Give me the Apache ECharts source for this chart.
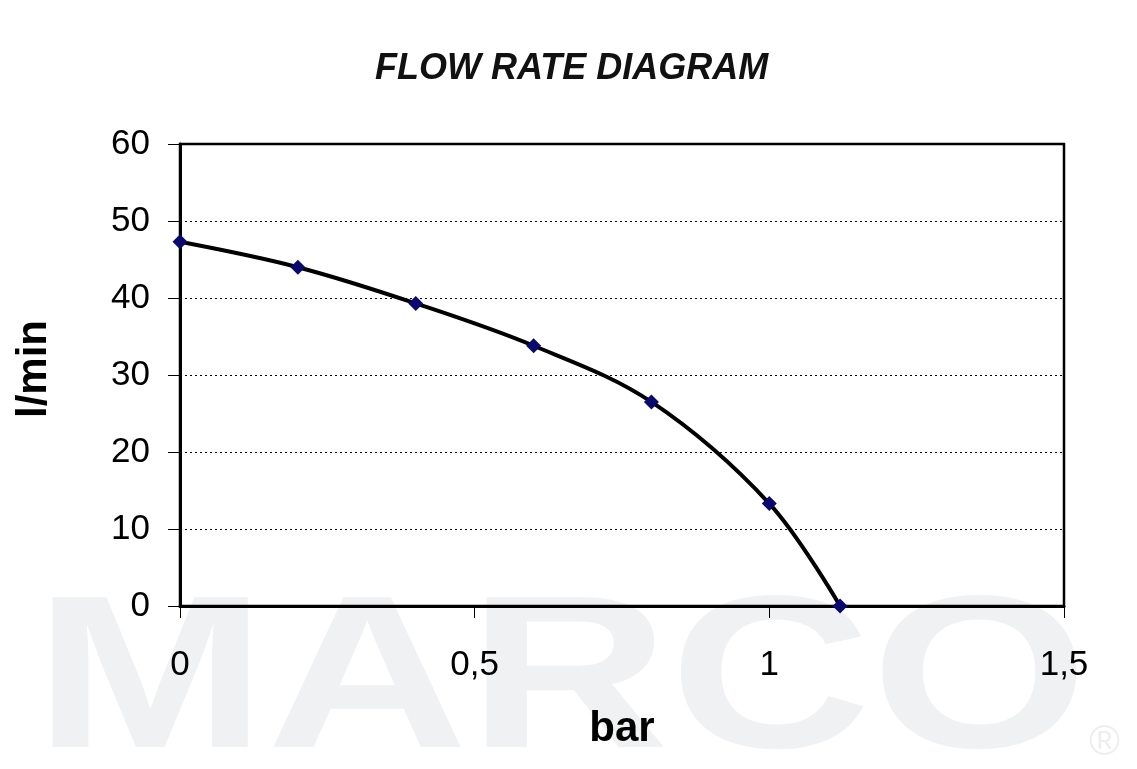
<!DOCTYPE html>
<html>
<head>
<meta charset="utf-8">
<script src="https://cdn.jsdelivr.net/npm/echarts@6/dist/echarts.min.js"></script>
<style>
  html, body { margin: 0; padding: 0; background: #fff; }
  #chart { width: 1137px; height: 769px; }
</style>
</head>
<body>
<div id="chart"></div>
<script>
const pressureBar = [0, 0.2, 0.4, 0.6, 0.8, 1.0, 1.12];
const flowLmin = [47.3, 44.0, 39.3, 33.8, 26.5, 13.3, 0];
const xTicks = [0, 0.5, 1, 1.5];

const chart = echarts.init(document.getElementById("chart"));
const font = "Liberation Sans, Arial, sans-serif";

chart.setOption({
  backgroundColor: "#fff",
  animation: false,
  title: {
    text: "FLOW RATE DIAGRAM",
    left: 370,
    top: 46,
    textStyle: { fontFamily: font, fontSize: 36, fontWeight: "bold", fontStyle: "italic", color: "#111" },
  },
  graphic: [
    {
      type: "text",
      silent: true,
      z: -10,
      left: 34,
      top: 578,
      scaleX: 1.28,
      style: { text: "MARCO", font: "bold 218px Liberation Sans, Arial", fill: "#f0f1f3" },
    },
    {
      type: "text",
      silent: true,
      z: -10,
      left: 1089,
      top: 722,
      style: { text: "®", font: "42px Liberation Sans, Arial", fill: "#eceef0" },
    },
  ],
  grid: { left: 180, right: 73, top: 144, bottom: 163, show: true, borderColor: "#000", borderWidth: 2.5 },
  xAxis: {
    type: "value",
    min: 0,
    max: 1.5,
    interval: 0.5,
    name: "bar",
    nameLocation: "middle",
    nameGap: 102,
    nameTextStyle: { fontFamily: font, fontSize: 42, fontWeight: "bold", color: "#000" },
    axisLine: { show: true, lineStyle: { color: "#000", width: 3 } },
    axisTick: { show: true, length: 12, lineStyle: { color: "#000", width: 1 } },
    axisLabel: {
      margin: 42,
      fontFamily: font,
      fontSize: 35,
      color: "#000",
      formatter: (v) => (xTicks.includes(v) ? String(v).replace(".", ",") : ""),
    },
    splitLine: { show: false },
  },
  yAxis: {
    type: "value",
    min: 0,
    max: 60,
    interval: 10,
    name: "l/min",
    nameLocation: "middle",
    nameGap: 125,
    nameRotate: 90,
    nameTextStyle: { fontFamily: font, fontSize: 42, fontWeight: "bold", color: "#000", padding: [0, 0, 0, 12] },
    axisLine: { show: true, lineStyle: { color: "#000", width: 3 } },
    axisTick: { show: true, length: 12, lineStyle: { color: "#000", width: 1 } },
    axisLabel: { margin: 30, fontFamily: font, fontSize: 35, color: "#000" },
    splitLine: { show: true, lineStyle: { color: "#000", width: 1, type: [2, 3] } },
  },
  series: [
    {
      type: "line",
      data: pressureBar.map((x, i) => [x, flowLmin[i]]),
      smooth: 0.35,
      symbol: "diamond",
      symbolSize: 15,
      itemStyle: { color: "#0a0a6e" },
      lineStyle: { color: "#000", width: 4 },
      z: 3,
    },
  ],
});
</script>
</body>
</html>
